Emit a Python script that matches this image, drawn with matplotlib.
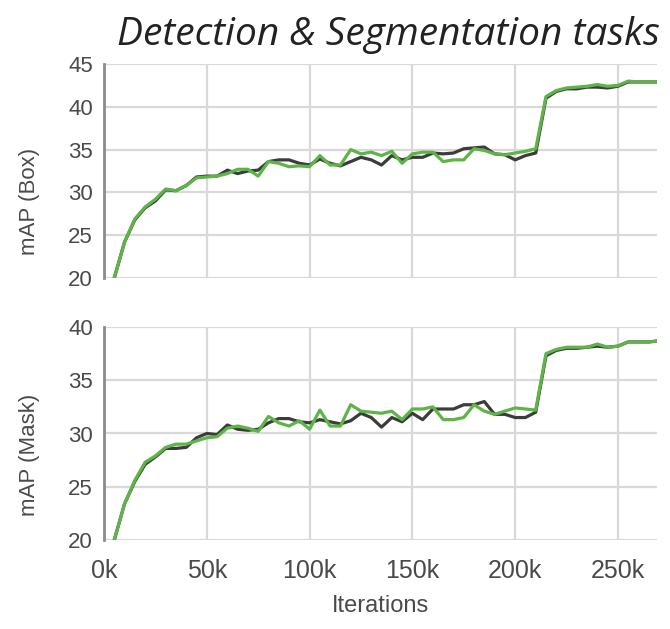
import matplotlib
matplotlib.use("Agg")
import matplotlib.pyplot as plt

iterations = [5, 10, 15, 20, 25, 30, 35, 40, 45, 50, 55, 60, 65, 70, 75, 80, 85, 90,
              95, 100, 105, 110, 115, 120, 125, 130, 135, 140, 145, 150, 155, 160, 165, 170,
              175, 180, 185, 190, 195, 200, 205, 210, 215, 220, 225, 230, 235, 240, 245, 250,
              255, 260, 265, 270]  # thousands

box_black = [20.0, 24.2, 26.8, 28.2, 29.0, 30.3, 30.2, 30.8, 31.8, 31.9, 31.9, 32.6, 32.2, 32.5,
             32.6, 33.6, 33.8, 33.8, 33.4, 33.2, 33.9, 33.4, 33.1, 33.6, 34.1, 33.8, 33.2, 34.3,
             33.8, 34.1, 34.1, 34.6, 34.5, 34.6, 35.1, 35.2, 35.3, 34.5, 34.4, 33.8, 34.3, 34.6,
             41.0, 41.8, 42.1, 42.1, 42.3, 42.3, 42.2, 42.4, 42.9, 42.9, 42.9, 42.9]
box_green = [20.0, 24.2, 26.9, 28.3, 29.2, 30.4, 30.2, 30.8, 31.7, 31.8, 31.9, 32.2, 32.7, 32.7,
             31.9, 33.6, 33.4, 33.0, 33.1, 33.0, 34.3, 33.2, 33.2, 35.0, 34.5, 34.7, 34.3, 34.8,
             33.4, 34.5, 34.7, 34.7, 33.6, 33.8, 33.8, 35.1, 34.9, 34.5, 34.4, 34.6, 34.8, 35.1,
             41.2, 41.9, 42.2, 42.3, 42.4, 42.6, 42.4, 42.5, 43.0, 42.9, 42.9, 42.9]
mask_black = [20.0, 23.4, 25.5, 27.1, 27.8, 28.6, 28.6, 28.7, 29.6, 30.0, 29.9, 30.8, 30.4, 30.3,
              30.4, 31.0, 31.4, 31.4, 31.1, 31.0, 31.3, 31.1, 30.9, 31.2, 31.9, 31.5, 30.6, 31.5,
              31.1, 31.9, 31.3, 32.3, 32.3, 32.3, 32.7, 32.7, 33.0, 31.8, 31.8, 31.5, 31.5, 32.0,
              37.3, 37.8, 38.0, 38.0, 38.1, 38.2, 38.1, 38.2, 38.6, 38.6, 38.6, 38.7]
mask_green = [20.0, 23.4, 25.6, 27.3, 27.9, 28.7, 29.0, 29.0, 29.3, 29.6, 29.7, 30.5, 30.7, 30.5,
              30.2, 31.6, 31.0, 30.7, 31.2, 30.4, 32.2, 30.7, 30.7, 32.7, 32.1, 32.0, 31.9, 32.1,
              31.3, 32.3, 32.3, 32.5, 31.3, 31.3, 31.5, 32.7, 32.1, 31.8, 32.1, 32.4, 32.3, 32.2,
              37.5, 37.9, 38.1, 38.1, 38.1, 38.4, 38.1, 38.2, 38.6, 38.6, 38.6, 38.7]

x_ticks = [0, 50, 100, 150, 200, 250]
x_ticklabels = ["0k", "50k", "100k", "150k", "200k", "250k"]
box_yticks = [20, 25, 30, 35, 40, 45]
mask_yticks = [20, 25, 30, 35, 40]

BLACK = "#3c3c3c"
GREEN = "#5db548"
GRID = "#d9d9d9"
TXT = "#4a4a4a"

plt.rcParams['font.family'] = ['Liberation Sans', 'DejaVu Sans']

fig = plt.figure(figsize=(6.7, 6.29), dpi=100)
ax1 = fig.add_axes([104/670, 1-278/629, 553/670, 214/629])
ax2 = fig.add_axes([104/670, 1-540/629, 553/670, 213/629])

def style(ax, yticks, ylim):
    ax.set_xlim(0, 269)
    ax.set_ylim(*ylim)
    ax.set_xticks(x_ticks)
    ax.set_yticks(yticks)
    ax.grid(True, color=GRID, lw=1.6)
    ax.set_axisbelow(True)
    for s in ['top', 'right', 'bottom']:
        ax.spines[s].set_visible(False)
    ax.spines['left'].set_color("#8c8c8c")
    ax.spines['left'].set_linewidth(2)
    ax.tick_params(axis='y', length=0, labelsize=16, labelcolor=TXT, pad=8)
    ax.tick_params(axis='x', length=0, labelsize=18, labelcolor=TXT, pad=14)

ax1.plot(iterations, box_black, color=BLACK, lw=2.3, solid_joinstyle='round')
ax1.plot(iterations, box_green, color=GREEN, lw=2.3, solid_joinstyle='round')
style(ax1, box_yticks, (20, 45))
ax1.tick_params(labelbottom=False)
ax1.set_ylabel("mAP (Box)", fontsize=16, color=TXT)
ax1.yaxis.set_label_coords(-0.116, 0.36)

ax2.plot(iterations, mask_black, color=BLACK, lw=2.3, solid_joinstyle='round')
ax2.plot(iterations, mask_green, color=GREEN, lw=2.3, solid_joinstyle='round')
style(ax2, mask_yticks, (20, 40))
ax2.set_xticklabels(x_ticklabels)
ax2.set_ylabel("mAP (Mask)", fontsize=16, color=TXT)
ax2.yaxis.set_label_coords(-0.116, 0.40)
ax2.set_xlabel("Iterations", fontsize=17, color=TXT, labelpad=8)

fig.text(388/670, 1-45/629, "Detection & Segmentation tasks", ha='center', va='baseline',
         fontsize=28, style='italic', family=['Open Sans', 'DejaVu Sans'], color="#222222")

fig.savefig("out.png", dpi=100)
